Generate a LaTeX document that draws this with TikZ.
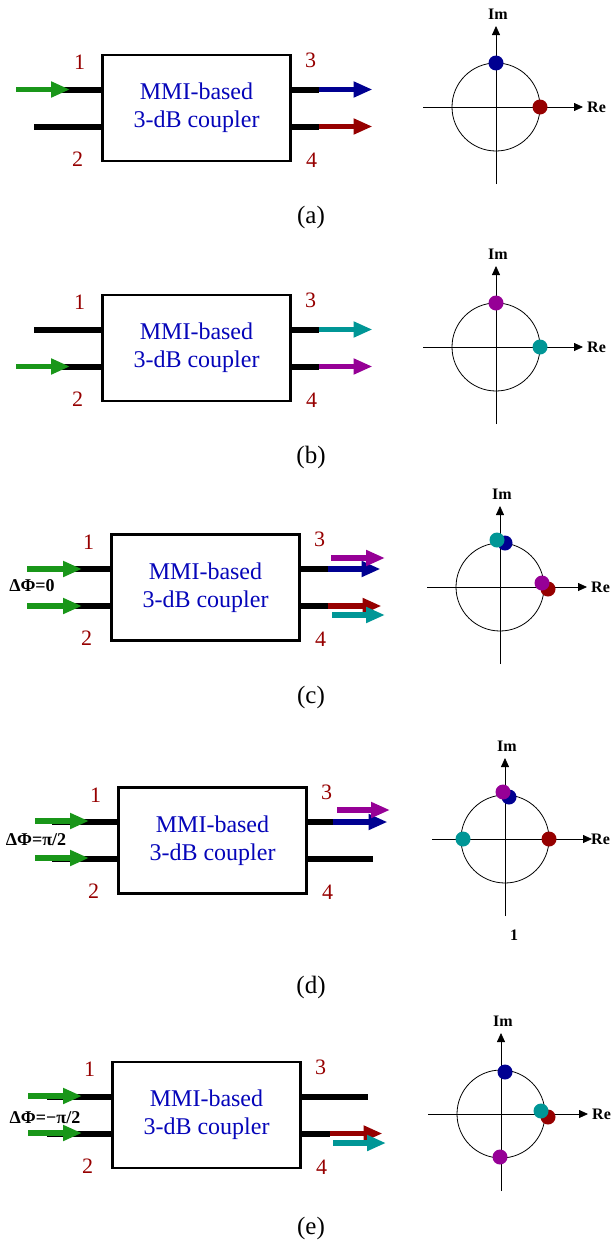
\documentclass[tikz,border=0pt]{standalone}
\usepackage{fontspec}
\setmainfont{Liberation Serif}
\usepackage{tikz}
\usetikzlibrary{arrows.meta,positioning,calc}

\definecolor{portred}{RGB}{150,0,0}
\definecolor{txtblue}{RGB}{5,5,185}
\definecolor{grn}{RGB}{25,150,25}
\definecolor{navy}{RGB}{0,0,145}
\definecolor{wine}{RGB}{150,0,0}
\definecolor{cyanish}{RGB}{0,150,150}
\definecolor{purp}{RGB}{150,0,150}

\tikzset{
  re gap/.initial=91,
  coupler/.pic={
    \node[mmi] (-box) at (0,0) {MMI-based\\3-dB coupler};
    \node[port] (-n1) at (-117,-45.5) {1};
    \node[port] (-n2) at (-119,51) {2};
    \node[port] (-n3) at (114,-48) {3};
    \node[port] (-n4) at (115,52) {4};
    \coordinate (-in1) at (-94,-18.5);
    \coordinate (-in2) at (-94,18.5);
    \coordinate (-out1) at (94,-18.5);
    \coordinate (-out2) at (94,18.5);
  },
  reim/.pic={
    \coordinate (-o) at (0,0);
    \draw[line width=0.8pt] (-o) circle[radius=44];
    \coordinate (-w) at (-73,0);
    \coordinate (-e) at (87,0);
    \coordinate (-s) at (0,77);
    \coordinate (-n) at (0,-81);
    \draw[axarr] (-w) -- (-e);
    \draw[axarr] (-s) -- (-n);
    \node[axlbl, anchor=west] (-re) at (\pgfkeysvalueof{/tikz/re gap},0) {Re};
    \node[axlbl] (-im) at (2,-93) {Im};
  }
}

\begin{document}
\begin{tikzpicture}[
  x=1pt, y=-1pt,
  mmi/.style={draw, line width=2.6pt, minimum width=188pt, minimum height=106pt, align=center, inner sep=0pt, text=txtblue, font=\fontsize{24}{28}\selectfont},
  port/.style={text=portred, inner sep=0pt, font=\fontsize{22}{22}\selectfont},
  wg/.style={line width=6pt},
  beam/.style={line width=5.5pt, -{Triangle[length=19pt,width=15pt]}},
  axarr/.style={line width=0.8pt, -{Triangle[length=9pt,width=8pt]}},
  axlbl/.style={inner sep=0pt, font=\bfseries\fontsize{16}{16}\selectfont},
  dphi/.style={inner sep=0pt, font=\bfseries\fontsize{18}{18}\selectfont},
  dot/.style={circle, minimum size=15pt, inner sep=0pt},
  panellbl/.style={inner sep=0pt, font=\fontsize{25}{25}\selectfont}
]
\useasboundingbox (0,0) rectangle (611,1242);

\pic (pa) at (196.5,108) {coupler};
\draw[wg] (pa-in1) -- +(-43,0);
\draw[wg] (pa-in2) -- +(-69,0);
\coordinate (sa1) at (16,89.5);
\draw[beam, grn] (sa1) -- +(54,0);
\draw[wg] (pa-out1) -- +(28,0) coordinate (ta1);
\draw[wg] (pa-out2) -- +(28,0) coordinate (ta2);
\draw[beam, navy] (ta1) -- +(54,0);
\draw[beam, wine] (ta2) -- +(54,0);
\pic (za) at (496,107) {reim};
\node[dot, fill=navy] (da1) at (496,63) {};
\node[dot, fill=wine] (da2) at (540,107) {};
\node[panellbl] (capa) at (311,217) {(a)};

\pic (pb) at (196.5,348) {coupler};
\draw[wg] (pb-in1) -- +(-69,0);
\draw[wg] (pb-in2) -- +(-43,0);
\coordinate (sb2) at (16,366.5);
\draw[beam, grn] (sb2) -- +(54,0);
\draw[wg] (pb-out1) -- +(28,0) coordinate (tb1);
\draw[wg] (pb-out2) -- +(28,0) coordinate (tb2);
\draw[beam, cyanish] (tb1) -- +(54,0);
\draw[beam, purp] (tb2) -- +(54,0);
\pic (zb) at (496,347) {reim};
\node[dot, fill=purp] (db1) at (496,303) {};
\node[dot, fill=cyanish] (db2) at (540,347) {};
\node[panellbl] (capb) at (311,457) {(b)};

\pic (pc) at (205.5,587.5) {coupler};
\draw[wg] (pc-in1) -- +(-38,0);
\draw[wg] (pc-in2) -- +(-38,0);
\coordinate (sc1) at (27,569);
\coordinate (sc2) at (27,606);
\draw[beam, grn] (sc1) -- +(55,0);
\draw[beam, grn] (sc2) -- +(55,0);
\node[dphi] (phc) at (32,586) {ΔΦ=0};
\draw[wg] (pc-out1) -- +(28,0) coordinate (tc1);
\draw[wg] (pc-out2) -- +(28,0) coordinate (tc2);
\draw[beam, navy] (tc1) -- +(53,0);
\draw[beam, wine] (tc2) -- +(54,0);
\coordinate (uc1) at (331,558);
\coordinate (uc2) at (332,615);
\draw[beam, purp] (uc1) -- +(54,0);
\draw[beam, cyanish] (uc2) -- +(53,0);
\pic (zc) at (500,587) {reim};
\node[dot, fill=navy] (dc1) at (505,543) {};
\node[dot, fill=cyanish] (dc2) at (497,540) {};
\node[dot, fill=wine] (dc3) at (548,589) {};
\node[dot, fill=purp] (dc4) at (542,583) {};
\node[panellbl] (capc) at (311,697) {(c)};

\pic (pd) at (212.5,840.5) {coupler};
\draw[wg] (pd-in1) -- +(-67,0);
\draw[wg] (pd-in2) -- +(-67,0);
\coordinate (sd1) at (35,821);
\coordinate (sd2) at (35,858);
\draw[beam, grn] (sd1) -- +(54,0);
\draw[beam, grn] (sd2) -- +(54,0);
\node[dphi] (phd) at (36,840) {ΔΦ=π/2};
\draw[wg] (pd-out1) -- +(26,0) coordinate (td1);
\draw[wg] (pd-out2) -- +(66,0);
\draw[beam, navy] (td1) -- +(55,0);
\coordinate (ud1) at (337,810);
\draw[beam, purp] (ud1) -- +(53,0);
\pic[re gap=86] (zd) at (505,839) {reim};
\node[dot, fill=navy] (dd1) at (509,797) {};
\node[dot, fill=purp] (dd2) at (503,792) {};
\node[dot, fill=cyanish] (dd3) at (463,839) {};
\node[dot, fill=wine] (dd4) at (549,839) {};
\node[axlbl] (oned) at (514,935) {1};
\node[panellbl] (capd) at (311,987) {(d)};

\pic (pe) at (206.5,1115) {coupler};
\draw[wg] (pe-in1) -- +(-66,0);
\draw[wg] (pe-in2) -- +(-66,0);
\coordinate (se1) at (28,1096);
\coordinate (se2) at (28,1133);
\draw[beam, grn] (se1) -- +(54,0);
\draw[beam, grn] (se2) -- +(54,0);
\node[dphi] (phe) at (45,1118) {ΔΦ=−π/2};
\draw[wg] (pe-out1) -- +(67,0);
\draw[wg] (pe-out2) -- +(29,0) coordinate (te2);
\draw[beam, wine] (te2) -- +(53,0);
\coordinate (ue2) at (333,1143);
\draw[beam, cyanish] (ue2) -- +(53,0);
\pic (ze) at (501,1114) {reim};
\node[dot, fill=navy] (de1) at (505,1072) {};
\node[dot, fill=wine] (de2) at (548,1117) {};
\node[dot, fill=cyanish] (de3) at (541,1111) {};
\node[dot, fill=purp] (de4) at (500,1157) {};
\node[panellbl] (cape) at (311,1228) {(e)};
\end{tikzpicture}
\end{document}
